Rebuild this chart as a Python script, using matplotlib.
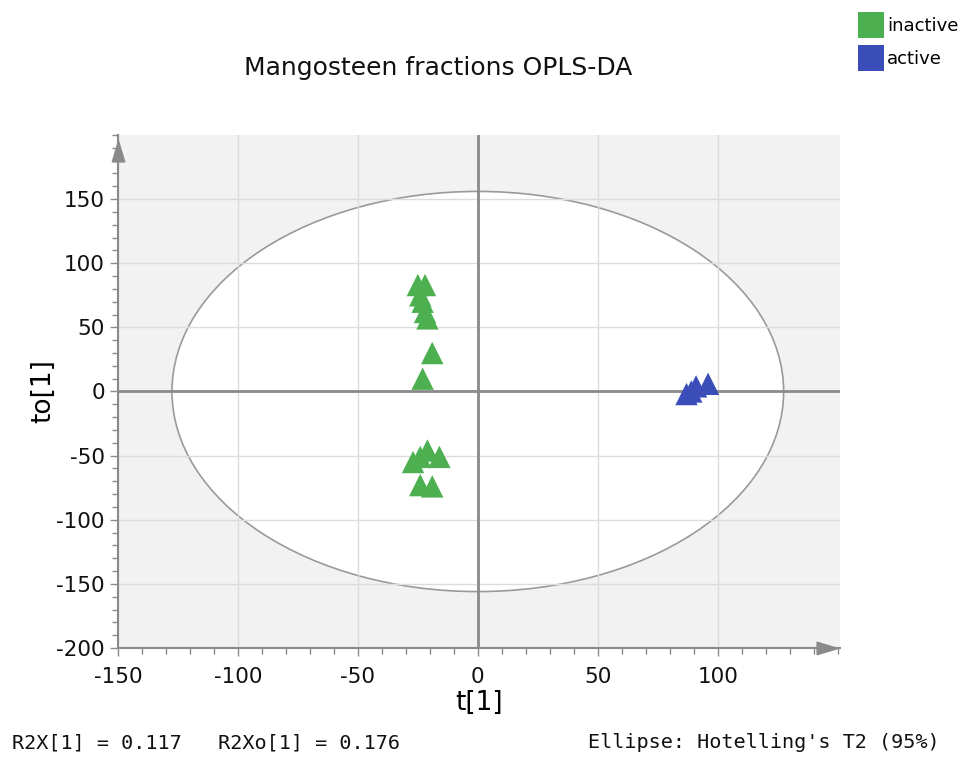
import matplotlib
matplotlib.use("Agg")
import matplotlib.pyplot as plt
from matplotlib.patches import Ellipse, Patch
from matplotlib.ticker import MultipleLocator

plt.rcParams["axes.unicode_minus"] = False

# Data
inactive_t = [-25, -22, -24, -23, -22, -21, -19, -23, -21, -16, -27, -24, -24, -19]
inactive_to = [83, 83, 75, 70, 62, 57, 30, 10, -46, -51, -55, -51, -73, -74]
active_t = [87, 89, 91, 96]
active_to = [-2, 0, 4, 6]
ellipse_t_radius = 127.5
ellipse_to_radius = 156
x_ticks = [-150, -100, -50, 0, 50, 100]
y_ticks = [-200, -150, -100, -50, 0, 50, 100, 150]
groups = ["inactive", "active"]

green = "#4CAF50"
blue = "#3A4DB8"
axis_gray = "#8a8a8a"

fig = plt.figure(figsize=(9.64, 7.57), dpi=100)
ax = fig.add_axes([118/964, 1-648/757, (840-118)/964, (648-135)/757])
ax.set_facecolor("#f2f2f2")
ax.set_xlim(-150, 151)
ax.set_ylim(-200, 200)

ell = Ellipse((0, 0), 2*ellipse_t_radius, 2*ellipse_to_radius, facecolor="white",
              edgecolor="#9a9a9a", linewidth=1.2, zorder=1)
ax.add_patch(ell)

ax.set_axisbelow("line")
ax.set_xticks(x_ticks)
ax.set_yticks(y_ticks)
ax.xaxis.set_minor_locator(MultipleLocator(10))
ax.yaxis.set_minor_locator(MultipleLocator(10))
ax.grid(True, which="major", color="#dcdcdc", linewidth=1.0)

ax.axvline(0, color=axis_gray, linewidth=2, zorder=2)
ax.axhline(0, color=axis_gray, linewidth=2, zorder=2)

ax.scatter(inactive_t, inactive_to, marker="^", s=260, color=green, edgecolors="none", zorder=3)
ax.scatter(active_t, active_to, marker="^", s=260, color=blue, edgecolors="none", zorder=3)

for s in ["top", "right"]:
    ax.spines[s].set_visible(False)
for s in ["left", "bottom"]:
    ax.spines[s].set_color(axis_gray)
    ax.spines[s].set_linewidth(1.5)

# axis arrow heads (narrow triangles)
up_arrow = [(-0.6, -1), (0.6, -1), (0, 1), (-0.6, -1)]
right_arrow = [(-1, -0.6), (-1, 0.6), (1, 0), (-1, -0.6)]
ax.plot([0], [1-16/513], marker=up_arrow, markersize=15, color=axis_gray, transform=ax.transAxes,
        clip_on=False, zorder=5)
ax.plot([1-13/722], [0], marker=right_arrow, markersize=15, color=axis_gray, transform=ax.transAxes,
        clip_on=False, zorder=5)

ax.tick_params(which="major", direction="out", length=6, width=1, color=axis_gray,
               labelsize=15.5, labelcolor="#111111")
ax.tick_params(which="minor", direction="out", length=4, width=1, color=axis_gray)
ax.tick_params(axis="x", pad=8)

ax.set_xlabel("t[1]", fontsize=19, labelpad=2)
ax.set_ylabel("to[1]", fontsize=19, labelpad=0)

fig.text(438/964, 1-68/757, "Mangosteen fractions OPLS-DA", fontsize=18, ha="center", va="center",
         color="#111111")

handles = [Patch(facecolor=green, edgecolor="none", label=groups[0]),
           Patch(facecolor=blue, edgecolor="none", label=groups[1])]
fig.legend(handles=handles, loc="upper left", bbox_to_anchor=(858/964, 1-12/757), frameon=False,
           fontsize=13, handlelength=1.45, handleheight=1.8, handletextpad=0.15, labelspacing=0.43,
           borderaxespad=0, borderpad=0)

fig.text(12/964, 1-743/757, "R2X[1] = 0.117   R2Xo[1] = 0.176", fontsize=14.5,
         family="DejaVu Sans Mono", ha="left", va="center", color="#111111")
fig.text(940/964, 1-743/757, "Ellipse: Hotelling's T2 (95%)", fontsize=14.5,
         family="DejaVu Sans Mono", ha="right", va="center", color="#111111")

fig.savefig("out.png", dpi=100)
